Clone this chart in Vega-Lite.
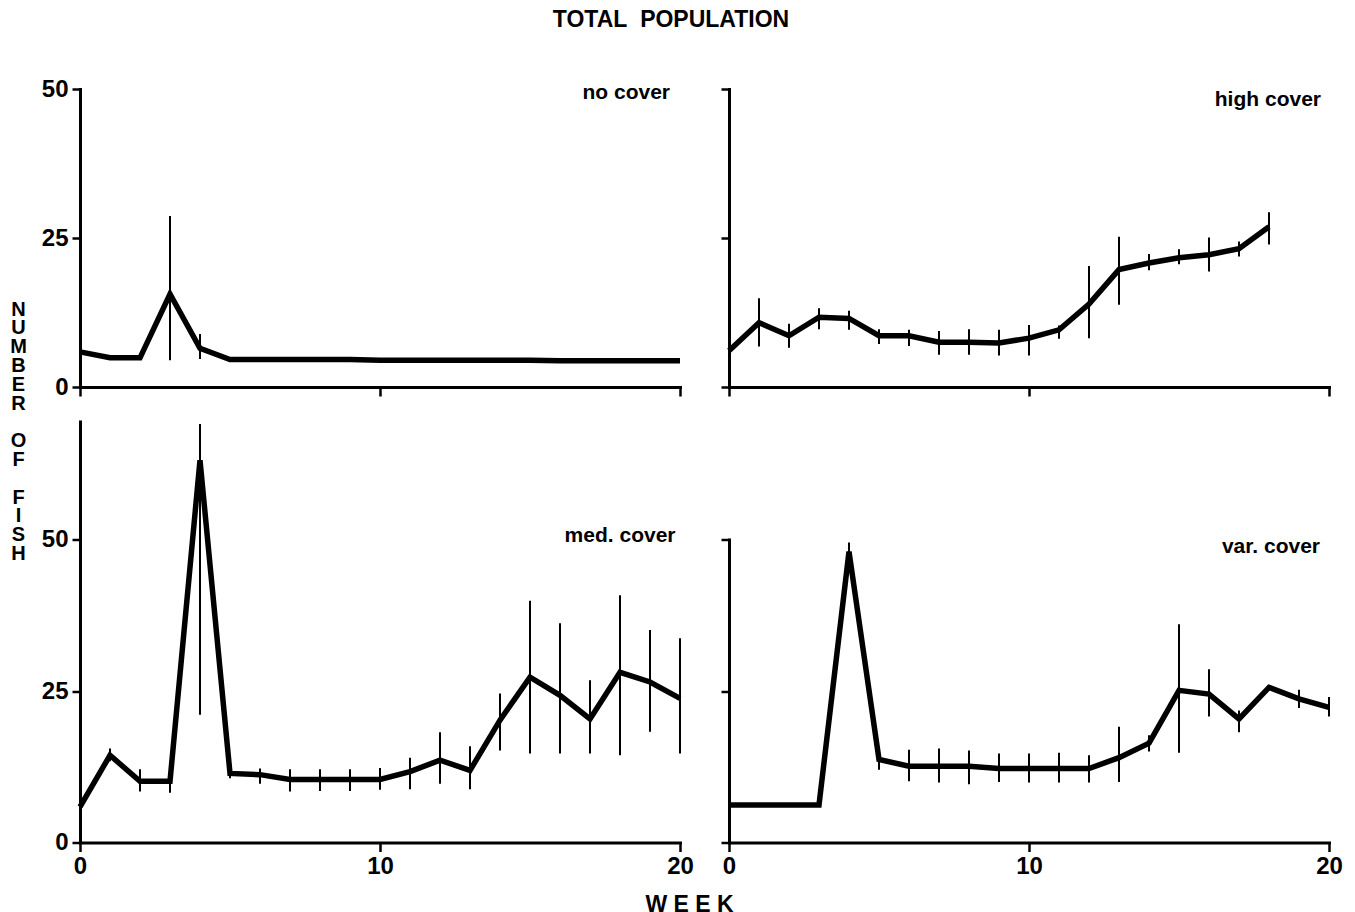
{
  "$schema": "https://vega.github.io/schema/vega-lite/v6.json",
  "padding": {"left": 9, "top": 9, "right": 5, "bottom": 0},
  "background": "white",
  "title": {"text": "TOTAL\u00a0\u00a0POPULATION", "font": "Liberation Sans", "fontSize": 23, "fontWeight": "bold", "color": "black", "anchor": "middle", "frame": "bounds", "baseline": "alphabetic", "offset": 27, "dx": -5},
  "bounds": "flush",
  "columns": 2,
  "spacing": {"row": 34.5, "column": 49},
  "config": {
    "view": {"stroke": null},
    "title": {"font": "Liberation Sans", "fontSize": 21, "fontWeight": "bold", "color": "black", "anchor": "end", "frame": "group", "baseline": "alphabetic"},
    "axis": {"grid": false, "domainColor": "black", "domainWidth": 3, "domainCap": "square", "tickColor": "black", "tickWidth": 2.5, "tickSize": 9, "labelFont": "Liberation Sans", "labelFontSize": 24, "labelFontWeight": "bold", "labelColor": "black", "labelPadding": 3, "labelFlush": false, "labelOverlap": false, "titleFont": "Liberation Sans", "titleFontWeight": "bold", "titleColor": "black", "titleFontSize": 21},
    "axisY": {"tickSize": 8, "labelPadding": 4}
  },
  "datasets": {
    "fish": [
      {"panel": "no cover", "week": 0, "mean": 5.9, "lo": null, "hi": null},
      {"panel": "no cover", "week": 1, "mean": 4.9, "lo": null, "hi": null},
      {"panel": "no cover", "week": 2, "mean": 4.9, "lo": null, "hi": null},
      {"panel": "no cover", "week": 3, "mean": 15.6, "lo": 4.5, "hi": 28.7},
      {"panel": "no cover", "week": 4, "mean": 6.5, "lo": 4.7, "hi": 8.9},
      {"panel": "no cover", "week": 5, "mean": 4.6, "lo": null, "hi": null},
      {"panel": "no cover", "week": 6, "mean": 4.6, "lo": null, "hi": null},
      {"panel": "no cover", "week": 7, "mean": 4.6, "lo": null, "hi": null},
      {"panel": "no cover", "week": 8, "mean": 4.6, "lo": null, "hi": null},
      {"panel": "no cover", "week": 9, "mean": 4.6, "lo": null, "hi": null},
      {"panel": "no cover", "week": 10, "mean": 4.5, "lo": null, "hi": null},
      {"panel": "no cover", "week": 11, "mean": 4.5, "lo": null, "hi": null},
      {"panel": "no cover", "week": 12, "mean": 4.5, "lo": null, "hi": null},
      {"panel": "no cover", "week": 13, "mean": 4.5, "lo": null, "hi": null},
      {"panel": "no cover", "week": 14, "mean": 4.5, "lo": null, "hi": null},
      {"panel": "no cover", "week": 15, "mean": 4.5, "lo": null, "hi": null},
      {"panel": "no cover", "week": 16, "mean": 4.4, "lo": null, "hi": null},
      {"panel": "no cover", "week": 17, "mean": 4.4, "lo": null, "hi": null},
      {"panel": "no cover", "week": 18, "mean": 4.4, "lo": null, "hi": null},
      {"panel": "no cover", "week": 19, "mean": 4.4, "lo": null, "hi": null},
      {"panel": "no cover", "week": 20, "mean": 4.4, "lo": null, "hi": null},
      {"panel": "high cover", "week": 0, "mean": 6.1, "lo": null, "hi": null},
      {"panel": "high cover", "week": 1, "mean": 10.8, "lo": 6.8, "hi": 14.9},
      {"panel": "high cover", "week": 2, "mean": 8.6, "lo": 6.6, "hi": 10.6},
      {"panel": "high cover", "week": 3, "mean": 11.7, "lo": 9.7, "hi": 13.2},
      {"panel": "high cover", "week": 4, "mean": 11.5, "lo": 9.6, "hi": 12.8},
      {"panel": "high cover", "week": 5, "mean": 8.6, "lo": 7.2, "hi": 9.7},
      {"panel": "high cover", "week": 6, "mean": 8.6, "lo": 6.9, "hi": 9.6},
      {"panel": "high cover", "week": 7, "mean": 7.5, "lo": 5.4, "hi": 9.4},
      {"panel": "high cover", "week": 8, "mean": 7.5, "lo": 5.4, "hi": 9.7},
      {"panel": "high cover", "week": 9, "mean": 7.4, "lo": 5.3, "hi": 9.6},
      {"panel": "high cover", "week": 10, "mean": 8.2, "lo": 5.3, "hi": 10.4},
      {"panel": "high cover", "week": 11, "mean": 9.6, "lo": 8.1, "hi": 10.3},
      {"panel": "high cover", "week": 12, "mean": 13.9, "lo": 8.2, "hi": 20.3},
      {"panel": "high cover", "week": 13, "mean": 19.7, "lo": 13.8, "hi": 25.2},
      {"panel": "high cover", "week": 14, "mean": 20.8, "lo": 19.6, "hi": 22.3},
      {"panel": "high cover", "week": 15, "mean": 21.7, "lo": 20.6, "hi": 23.1},
      {"panel": "high cover", "week": 16, "mean": 22.2, "lo": 19.4, "hi": 25.1},
      {"panel": "high cover", "week": 17, "mean": 23.2, "lo": 21.9, "hi": 24.4},
      {"panel": "high cover", "week": 18, "mean": 26.9, "lo": 23.9, "hi": 29.3},
      {"panel": "med. cover", "week": 0, "mean": 5.9, "lo": null, "hi": null},
      {"panel": "med. cover", "week": 1, "mean": 14.4, "lo": 13.4, "hi": 15.5},
      {"panel": "med. cover", "week": 2, "mean": 10.1, "lo": 8.4, "hi": 12.1},
      {"panel": "med. cover", "week": 3, "mean": 10.1, "lo": 8.2, "hi": 11.9},
      {"panel": "med. cover", "week": 4, "mean": 63.1, "lo": 21.1, "hi": 69.1},
      {"panel": "med. cover", "week": 5, "mean": 11.4, "lo": 10.6, "hi": 11.9},
      {"panel": "med. cover", "week": 6, "mean": 11.2, "lo": 9.7, "hi": 12.2},
      {"panel": "med. cover", "week": 7, "mean": 10.4, "lo": 8.4, "hi": 12.1},
      {"panel": "med. cover", "week": 8, "mean": 10.4, "lo": 8.5, "hi": 12.1},
      {"panel": "med. cover", "week": 9, "mean": 10.4, "lo": 8.5, "hi": 12.1},
      {"panel": "med. cover", "week": 10, "mean": 10.4, "lo": 8.7, "hi": 12.3},
      {"panel": "med. cover", "week": 11, "mean": 11.7, "lo": 8.8, "hi": 14.0},
      {"panel": "med. cover", "week": 12, "mean": 13.6, "lo": 9.7, "hi": 18.2},
      {"panel": "med. cover", "week": 13, "mean": 11.9, "lo": 8.8, "hi": 15.9},
      {"panel": "med. cover", "week": 14, "mean": 20.2, "lo": 15.2, "hi": 24.6},
      {"panel": "med. cover", "week": 15, "mean": 27.3, "lo": 14.7, "hi": 39.9},
      {"panel": "med. cover", "week": 16, "mean": 24.3, "lo": 14.7, "hi": 36.2},
      {"panel": "med. cover", "week": 17, "mean": 20.4, "lo": 14.7, "hi": 26.8},
      {"panel": "med. cover", "week": 18, "mean": 28.1, "lo": 14.4, "hi": 40.8},
      {"panel": "med. cover", "week": 19, "mean": 26.5, "lo": 18.3, "hi": 35.1},
      {"panel": "med. cover", "week": 20, "mean": 23.8, "lo": 14.7, "hi": 33.7},
      {"panel": "var. cover", "week": 0, "mean": 6.2, "lo": null, "hi": null},
      {"panel": "var. cover", "week": 1, "mean": 6.2, "lo": null, "hi": null},
      {"panel": "var. cover", "week": 2, "mean": 6.2, "lo": null, "hi": null},
      {"panel": "var. cover", "week": 3, "mean": 6.2, "lo": null, "hi": null},
      {"panel": "var. cover", "week": 4, "mean": 48.0, "lo": 47.0, "hi": 49.5},
      {"panel": "var. cover", "week": 5, "mean": 13.7, "lo": 12.0, "hi": 15.2},
      {"panel": "var. cover", "week": 6, "mean": 12.6, "lo": 10.1, "hi": 15.3},
      {"panel": "var. cover", "week": 7, "mean": 12.6, "lo": 9.9, "hi": 15.5},
      {"panel": "var. cover", "week": 8, "mean": 12.6, "lo": 9.6, "hi": 15.2},
      {"panel": "var. cover", "week": 9, "mean": 12.2, "lo": 10.0, "hi": 14.7},
      {"panel": "var. cover", "week": 10, "mean": 12.2, "lo": 9.9, "hi": 14.7},
      {"panel": "var. cover", "week": 11, "mean": 12.2, "lo": 9.9, "hi": 14.8},
      {"panel": "var. cover", "week": 12, "mean": 12.2, "lo": 9.9, "hi": 14.4},
      {"panel": "var. cover", "week": 13, "mean": 14.0, "lo": 10.0, "hi": 19.1},
      {"panel": "var. cover", "week": 14, "mean": 16.4, "lo": 15.0, "hi": 17.7},
      {"panel": "var. cover", "week": 15, "mean": 25.1, "lo": 14.8, "hi": 36.0},
      {"panel": "var. cover", "week": 16, "mean": 24.5, "lo": 20.8, "hi": 28.6},
      {"panel": "var. cover", "week": 17, "mean": 20.4, "lo": 18.2, "hi": 21.8},
      {"panel": "var. cover", "week": 18, "mean": 25.6, "lo": null, "hi": null},
      {"panel": "var. cover", "week": 19, "mean": 23.7, "lo": 22.2, "hi": 25.2},
      {"panel": "var. cover", "week": 20, "mean": 22.3, "lo": 20.8, "hi": 24.0}
    ]
  },
  "concat": [
    {
      "width": 600, "height": 298,
      "title": {"text": "no cover", "offset": -26, "dx": -10},
      "data": {"name": "fish"},
      "transform": [{"filter": "datum.panel == 'no cover'"}],
      "encoding": {
        "x": {"field": "week", "type": "quantitative", "scale": {"domain": [0, 20], "nice": false}, "axis": {"values": [0, 10, 20], "labels": false, "title": null}}
      },
      "layer": [
        {"mark": {"type": "line", "color": "black", "strokeWidth": 5.5},
         "encoding": {"y": {"field": "mean", "type": "quantitative", "scale": {"domain": [0, 50], "nice": false},
           "axis": {"values": [0, 25, 50], "title": ["N", "U", "M", "B", "E", "R", "\u200b", "O", "F", "\u200b", "F", "I", "S", "H"], "titleFontSize": 20, "titleAngle": 0, "titleAlign": "center", "titleBaseline": "top", "titleX": -62, "titleY": 210, "titleLineHeight": 18.8}}}},
        {"transform": [{"filter": "datum.lo != null"}],
         "mark": {"type": "rule", "color": "black", "strokeWidth": 2},
         "encoding": {"y": {"field": "lo", "type": "quantitative"}, "y2": {"field": "hi"}}}
      ]
    },
    {
      "width": 600, "height": 298,
      "title": {"text": "high cover", "offset": -22.5, "dx": -8},
      "data": {"name": "fish"},
      "transform": [{"filter": "datum.panel == 'high cover'"}],
      "encoding": {
        "x": {"field": "week", "type": "quantitative", "scale": {"domain": [0, 20], "nice": false}, "axis": {"values": [0, 10, 20], "labels": false, "title": null}}
      },
      "layer": [
        {"mark": {"type": "line", "color": "black", "strokeWidth": 5.5},
         "encoding": {"y": {"field": "mean", "type": "quantitative", "scale": {"domain": [0, 50], "nice": false},
           "axis": {"values": [0, 25, 50], "labels": false, "title": null}}}},
        {"transform": [{"filter": "datum.lo != null"}],
         "mark": {"type": "rule", "color": "black", "strokeWidth": 2},
         "encoding": {"y": {"field": "lo", "type": "quantitative"}, "y2": {"field": "hi"}}}
      ]
    },
    {
      "width": 600, "height": 421,
      "title": {"text": "med. cover", "offset": -124.5, "dx": -4.5},
      "data": {"name": "fish"},
      "transform": [{"filter": "datum.panel == 'med. cover'"}],
      "encoding": {
        "x": {"field": "week", "type": "quantitative", "scale": {"domain": [0, 20], "nice": false}, "axis": {"values": [0, 10, 20], "title": "W E E K", "titleFontSize": 23, "titleAlign": "center", "titleBaseline": "alphabetic", "titleX": 609, "titleY": 69}}
      },
      "layer": [
        {"mark": {"type": "line", "color": "black", "strokeWidth": 5.5},
         "encoding": {"y": {"field": "mean", "type": "quantitative", "scale": {"domain": [0, 69.5], "nice": false},
           "axis": {"values": [0, 25, 50], "title": null}}}},
        {"transform": [{"filter": "datum.lo != null"}],
         "mark": {"type": "rule", "color": "black", "strokeWidth": 2},
         "encoding": {"y": {"field": "lo", "type": "quantitative"}, "y2": {"field": "hi"}}}
      ]
    },
    {
      "width": 600, "height": 421,
      "title": {"text": "var. cover", "offset": -135.5, "dx": -9},
      "data": {"name": "fish"},
      "transform": [{"filter": "datum.panel == 'var. cover'"}],
      "encoding": {
        "x": {"field": "week", "type": "quantitative", "scale": {"domain": [0, 20], "nice": false}, "axis": {"values": [0, 10, 20], "title": null}}
      },
      "layer": [
        {"mark": {"type": "line", "color": "black", "strokeWidth": 5.5},
         "encoding": {"y": {"field": "mean", "type": "quantitative", "scale": {"domain": [0, 50], "range": [421, 118], "nice": false},
           "axis": {"values": [0, 25, 50], "labels": false, "title": null}}}},
        {"transform": [{"filter": "datum.lo != null"}],
         "mark": {"type": "rule", "color": "black", "strokeWidth": 2},
         "encoding": {"y": {"field": "lo", "type": "quantitative"}, "y2": {"field": "hi"}}}
      ]
    }
  ]
}
